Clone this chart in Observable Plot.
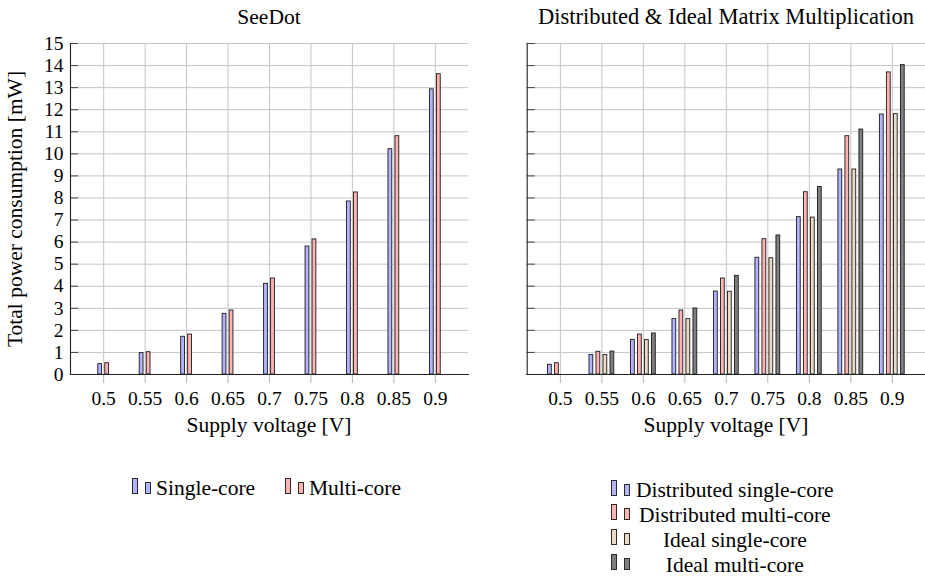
<!DOCTYPE html>
<html>
<head>
<meta charset="utf-8">
<script src="https://cdn.jsdelivr.net/npm/d3@7"></script>
<script src="https://cdn.jsdelivr.net/npm/@observablehq/plot@0.6"></script>
<style>
  body { margin: 0; background: #fff; }
  #root { position: relative; width: 925px; height: 578px; overflow: hidden;
          font-family: "Liberation Serif", "Times New Roman", serif; color: #000; background: #fff; }
  .t { position: absolute; white-space: nowrap; }
  .sw { position: absolute; box-sizing: border-box; border: 1px solid #2a2a2a; width: 6px; }
  svg { position: absolute; top: 0; }
</style>
</head>
<body>
<div id="root"></div>
<script>
// ---- data ----
const voltages = [0.5, 0.55, 0.6, 0.65, 0.7, 0.75, 0.8, 0.85, 0.9];
const yTicks = [0, 1, 2, 3, 4, 5, 6, 7, 8, 9, 10, 11, 12, 13, 14, 15];

// SeeDot
const seedotSingle = [0.47, 0.97, 1.71, 2.75, 4.11, 5.80, 7.84, 10.21, 12.92];
const seedotMulti  = [0.51, 1.01, 1.81, 2.90, 4.35, 6.12, 8.25, 10.80, 13.61];

// Distributed & Ideal Matrix Multiplication
const distSingle  = [0.44, 0.88, 1.57, 2.51, 3.76, 5.29, 7.13, 9.29, 11.78];
const distMulti   = [0.51, 1.03, 1.81, 2.90, 4.35, 6.13, 8.26, 10.80, 13.69];
const idealSingle = [null, 0.88, 1.56, 2.51, 3.75, 5.27, 7.11, 9.29, 11.80];
const idealMulti  = [null, 1.04, 1.86, 2.99, 4.47, 6.30, 8.50, 11.10, 14.02];

const leftTitle = "SeeDot";
const rightTitle = "Distributed & Ideal Matrix Multiplication";
const xLabel = "Supply voltage [V]";
const yLabel = "Total power consumption [mW]";
const leftNames = ["Single-core", "Multi-core"];
const rightNames = ["Distributed single-core", "Distributed multi-core", "Ideal single-core", "Ideal multi-core"];

const colors = {blue: "#b3b3ff", red: "#ffb3b3", beige: "#ebdac6", gray: "#7f7f7f"};
const barStroke = "#1a1a1a";
const FONT = '"Liberation Serif", "Times New Roman", serif';
const TICK_FS = 19.5;
const LABEL_FS = 21.5;

// ---- helpers ----
const rows = vals => voltages.map((v, i) => ({v, value: vals[i]})).filter(d => d.value != null);

function chart({series, width, marginLeft, marginRight, showYLabels}) {
  const marks = [
    Plot.gridX(voltages, {stroke: "#c6c6c6", strokeOpacity: 1}),
    Plot.gridY(yTicks, {stroke: "#c6c6c6", strokeOpacity: 1}),
    Plot.axisX(voltages, {tickSize: 9, stroke: "#b5b5b5", tickPadding: 8, label: null,
                          tickFormat: d => String(d), fontSize: TICK_FS, fill: "#000"}),
    Plot.axisY(yTicks, {tickSize: 8, dx: 8, text: null, stroke: "#444", label: null})
  ];
  if (showYLabels) {
    marks.push(Plot.axisY(yTicks, {tickSize: 0, tickPadding: 7, label: null, fontSize: TICK_FS, fill: "#000"}));
  }
  for (const s of series) {
    marks.push(Plot.rect(rows(s.values), {
      x1: "v", x2: "v", y1: 0, y2: "value",
      insetLeft: -1.9, insetRight: -1.9, dx: s.offset,
      fill: s.color, stroke: barStroke, strokeWidth: 0.9
    }));
  }
  marks.push(Plot.frame({anchor: "left", stroke: "#222", strokeWidth: 1.1}));
  marks.push(Plot.frame({anchor: "bottom", stroke: "#222", strokeWidth: 1.1}));
  return Plot.plot({
    width, height: 445,
    marginLeft, marginRight, marginTop: 43, marginBottom: 71,
    x: {type: "linear", domain: [0.46, 0.94], label: null},
    y: {domain: [0, 15], label: null},
    style: {fontFamily: FONT, fontSize: TICK_FS + "px", color: "#000", background: "transparent", overflow: "visible"},
    marks
  });
}

const root = document.getElementById("root");

const left = chart({
  width: 470, marginLeft: 70, marginRight: 2, showYLabels: true,
  series: [
    {values: seedotSingle, color: colors.blue, offset: -3.5},
    {values: seedotMulti, color: colors.red, offset: 3.5}
  ]
});
left.style.left = "0px";
root.appendChild(left);

const right = chart({
  width: 455, marginLeft: 56.7, marginRight: 0, showYLabels: false,
  series: [
    {values: distSingle, color: colors.blue, offset: -10.5},
    {values: distMulti, color: colors.red, offset: -3.5},
    {values: idealSingle, color: colors.beige, offset: 3.5},
    {values: idealMulti, color: colors.gray, offset: 10.5}
  ]
});
right.style.left = "470px";
root.appendChild(right);

// ---- text outside the SVGs ----
const baseOff = (fs, lh) => (lh - 1.107 * fs) / 2 + 0.891 * fs;
function text(str, x, baseline, anchor = "start", fs = LABEL_FS) {
  const el = document.createElement("div");
  el.className = "t";
  el.textContent = str;
  el.style.fontSize = fs + "px";
  el.style.lineHeight = fs + "px";
  el.style.left = x + "px";
  el.style.top = (baseline - baseOff(fs, fs)) + "px";
  if (anchor === "middle") el.style.transform = "translateX(-50%)";
  root.appendChild(el);
  return el;
}
text(leftTitle, 269, 25, "middle", 21.5);
text(rightTitle, 726, 25, "middle", 22.5);
text(xLabel, 269, 433, "middle");
text(xLabel, 726, 433, "middle");

const yl = document.createElement("div");
yl.className = "t";
yl.textContent = yLabel;
yl.style.fontSize = LABEL_FS + "px";
yl.style.lineHeight = LABEL_FS + "px";
yl.style.left = "16px";
yl.style.top = "209px";
yl.style.transform = "translate(-50%, -50%) rotate(-90deg)";
root.appendChild(yl);

function swatch(x, bottom, color) {
  const a = document.createElement("div");
  a.className = "sw";
  a.style.left = x + "px"; a.style.top = (bottom - 16) + "px"; a.style.height = "16px";
  a.style.background = color;
  const b = document.createElement("div");
  b.className = "sw";
  b.style.left = (x + 13) + "px"; b.style.top = (bottom - 12) + "px"; b.style.height = "12px";
  b.style.background = color;
  root.appendChild(a); root.appendChild(b);
}

// left legend
swatch(132, 494, colors.blue);
text(leftNames[0], 156, 496);
swatch(285, 494, colors.red);
text(leftNames[1], 309, 496);

// right legend
const rightColors = [colors.blue, colors.red, colors.beige, colors.gray];
const col = document.createElement("div");
col.style.position = "absolute";
col.style.left = "636px";
col.style.top = (497.5 - baseOff(LABEL_FS, 25)) + "px";
col.style.fontSize = LABEL_FS + "px";
col.style.lineHeight = "25px";
col.style.textAlign = "center";
col.style.whiteSpace = "nowrap";
rightNames.forEach((name, i) => {
  const r = document.createElement("div");
  r.textContent = name;
  col.appendChild(r);
  swatch(611, Math.round(495.5 + i * 24.8), rightColors[i]);
});
root.appendChild(col);
</script>
</body>
</html>
